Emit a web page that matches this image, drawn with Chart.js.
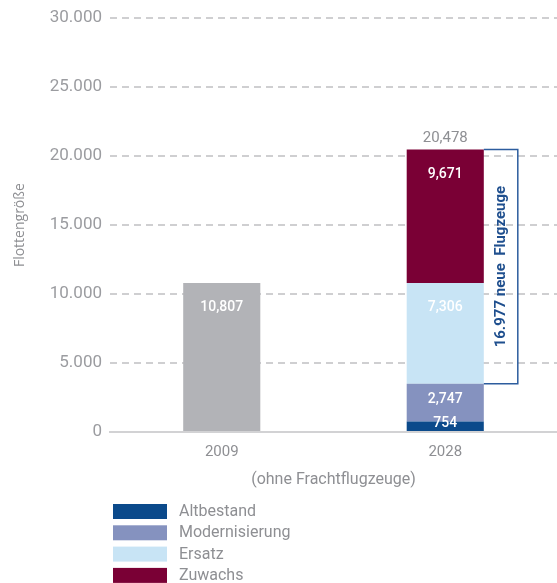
<!DOCTYPE html>
<html>
<head>
<meta charset="utf-8">
<script src="https://cdn.jsdelivr.net/npm/chart.js@4/dist/chart.umd.min.js"></script>
<style>
html, body { margin: 0; padding: 0; background: #fff; }
</style>
</head>
<body>
<canvas id="chart" width="557" height="583"></canvas>
<script>
// data
const years = ['2009', '2028']
const bestand2009 = [10807, null]
const altbestand = [null, 754]
const modernisierung = [null, 2747]
const ersatz = [null, 7306]
const zuwachs = [null, 9671]
const legendNames = ['Altbestand', 'Modernisierung', 'Ersatz', 'Zuwachs']

const grey = '#8e8f93'

// white value labels, total on top, bracket with note
const barLabels = {
    id: 'barLabels',
    afterDatasetsDraw(chart) {
        const ctx = chart.ctx
        ctx.save()
        ctx.textAlign = 'center'
        ctx.textBaseline = 'middle'
        ctx.font = '500 14px Roboto'
        chart.data.datasets.forEach((ds, i) => {
            chart.getDatasetMeta(i).data.forEach((bar, j) => {
                const v = ds.data[j]
                if (v == null) return
                const h = bar.base - bar.y
                ctx.fillStyle = '#ffffff'
                ctx.fillText(v.toLocaleString('en-US'), bar.x, bar.y + Math.min(25, h / 2 - 3))
            })
        })

        // total above the 2028 stack
        const top = chart.getDatasetMeta(4).data[1]
        const total = altbestand[1] + modernisierung[1] + ersatz[1] + zuwachs[1]
        ctx.fillStyle = grey
        ctx.font = '15px Roboto'
        ctx.fillText(total.toLocaleString('en-US'), top.x, top.y - 11)

        // bracket over Ersatz + Zuwachs
        const low = chart.getDatasetMeta(3).data[1]
        const x0 = top.x + top.width / 2
        const x1 = x0 + 34
        const y0 = top.y
        const y1 = low.base
        ctx.strokeStyle = '#2d5d9e'
        ctx.lineWidth = 1.5
        ctx.beginPath()
        ctx.moveTo(x0, y0)
        ctx.lineTo(x1, y0)
        ctx.lineTo(x1, y1)
        ctx.lineTo(x0, y1)
        ctx.stroke()

        const neu = ersatz[1] + zuwachs[1]
        ctx.translate((x0 + x1) / 2, (y0 + y1) / 2)
        ctx.rotate(-Math.PI / 2)
        ctx.fillStyle = '#1f4f8e'
        ctx.font = 'bold 15px Roboto'
        ctx.fillText(neu.toLocaleString('de-DE') + ' neue  Flugzeuge', 0, 0)
        ctx.restore()
    },
    afterDraw(chart) {
        // legend as a single column below the axis title
        const ctx = chart.ctx
        ctx.save()
        ctx.textAlign = 'left'
        ctx.textBaseline = 'middle'
        ctx.font = '16px Roboto'
        legendNames.forEach((name, k) => {
            const ds = chart.data.datasets[k + 1]
            const y = 504 + k * 21.3
            ctx.fillStyle = ds.backgroundColor
            ctx.fillRect(113, y, 54, 15)
            ctx.fillStyle = grey
            ctx.fillText(name, 179, y + 8)
        })
        ctx.restore()
    }
}

new Chart(document.getElementById('chart'), {
    type: 'bar',
    data: {
        labels: years,
        datasets: [
            { label: '2009', data: bestand2009, backgroundColor: '#b2b3b7' },
            { label: legendNames[0], data: altbestand, backgroundColor: '#0b4a8b' },
            { label: legendNames[1], data: modernisierung, backgroundColor: '#8592bf' },
            { label: legendNames[2], data: ersatz, backgroundColor: '#c8e4f5' },
            { label: legendNames[3], data: zuwachs, backgroundColor: '#7a0035' }
        ]
    },
    options: {
        responsive: false,
        animation: false,
        barPercentage: 0.345,
        categoryPercentage: 1,
        layout: {
            padding: { top: 17, left: 12, right: 0, bottom: 89 }
        },
        plugins: {
            legend: { display: false },
            tooltip: { enabled: false }
        },
        scales: {
            x: {
                stacked: true,
                grid: { display: false, drawTicks: false },
                border: { display: true, color: '#d2d2d4', width: 2 },
                ticks: {
                    color: grey,
                    font: { family: 'Roboto', size: 15 },
                    padding: 11
                },
                title: {
                    display: true,
                    text: '(ohne Frachtflugzeuge)',
                    color: grey,
                    font: { family: 'Roboto', size: 16 },
                    padding: { top: 6, bottom: 4 }
                },
                afterFit(scale) {
                    scale.height = 62
                }
            },
            y: {
                stacked: true,
                min: 0,
                max: 30000,
                grid: {
                    drawTicks: false,
                    lineWidth: 2,
                    color: ctx => ctx.tick && ctx.tick.value === 0 ? 'rgba(0,0,0,0)' : '#cfcfd1'
                },
                border: { display: false, dash: [7, 5] },
                ticks: {
                    stepSize: 5000,
                    padding: 8,
                    color: '#9b9ca0',
                    font: { family: 'Roboto', size: 17 },
                    callback: v => v.toLocaleString('de-DE')
                },
                title: {
                    display: true,
                    text: 'Flottengröße',
                    color: grey,
                    font: { family: 'Open Sans', size: 14 },
                    padding: 0
                },
                afterFit(scale) {
                    scale.width = 98
                }
            }
        }
    },
    plugins: [barLabels]
})
</script>
</body>
</html>
